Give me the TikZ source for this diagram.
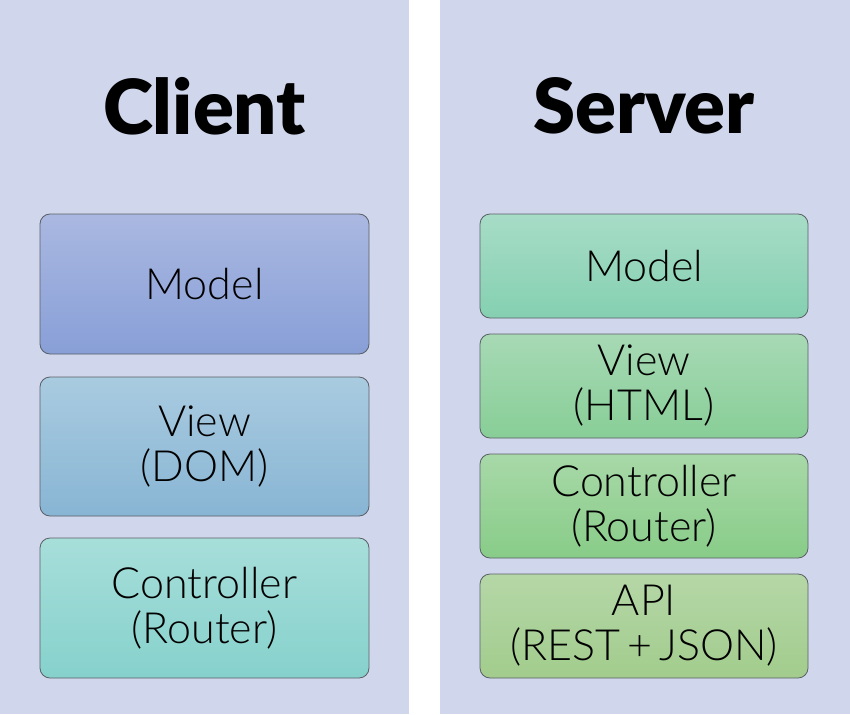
\documentclass[tikz,border=0pt]{standalone}
\usepackage{fontspec}
\setmainfont{Lato}
\newfontfamily\lightfont{Lato Light}
\newfontfamily\heavyfont{Lato Black}
\definecolor{panelbg}{HTML}{D0D6EB}
\definecolor{boxline}{HTML}{5A5F66}
\definecolor{cmodtop}{HTML}{AAB8E1}
\definecolor{cmodbot}{HTML}{889FD7}
\definecolor{cviewtop}{HTML}{A9CBE0}
\definecolor{cviewbot}{HTML}{88B5D4}
\definecolor{cctrltop}{HTML}{A7DEDA}
\definecolor{cctrlbot}{HTML}{86D1CC}
\definecolor{smodtop}{HTML}{A7DCC7}
\definecolor{smodbot}{HTML}{85D0B1}
\definecolor{sviewtop}{HTML}{A7D9B5}
\definecolor{sviewbot}{HTML}{88CE97}
\definecolor{sctrltop}{HTML}{A8D8A8}
\definecolor{sctrlbot}{HTML}{88CC88}
\definecolor{sapitop}{HTML}{B5D7A7}
\definecolor{sapibot}{HTML}{A2CC8D}
\tikzset{
    layer/.style={draw=boxline, line width=0.8pt, rounded corners=10pt,
        inner sep=0pt, align=center, text=black,
        font=\lightfont\fontsize{43}{45}\selectfont},
    title/.style={font=\heavyfont\fontsize{76}{80}\selectfont, text=black, inner sep=0pt},
}
\begin{document}
\begin{tikzpicture}[x=1pt,y=-1pt]
                \useasboundingbox (0,0) rectangle (850,714);
                \fill[white] (0,0) rectangle (850,714);
                \fill[panelbg] (0,0) rectangle (409,714);
                \fill[panelbg] (440,0) rectangle (850,714);

                \node[title] (client) at (204.5,106) {Client};
                \node[title] (server) at (644,106) {Server};

                % client side
                \node[layer, minimum width=329pt, minimum height=140pt,
                    top color=cmodtop, bottom color=cmodbot] (cmodel) at (204.5,284) {Model};
                \node[layer, minimum width=329pt, minimum height=139pt,
                    top color=cviewtop, bottom color=cviewbot] (cview) at (204.5,446.5) {View\\(DOM)};
                \node[layer, minimum width=329pt, minimum height=140pt,
                    top color=cctrltop, bottom color=cctrlbot] (cctrl) at (204.5,608) {Controller\\(Router)};

                % server side
                \node[layer, minimum width=328pt, minimum height=104pt,
                    top color=smodtop, bottom color=smodbot] (smodel) at (644,266) {Model};
                \node[layer, minimum width=328pt, minimum height=104pt,
                    top color=sviewtop, bottom color=sviewbot] (sview) at (644,386) {View\\(HTML)};
                \node[layer, minimum width=328pt, minimum height=104pt,
                    top color=sctrltop, bottom color=sctrlbot] (sctrl) at (644,506) {Controller\\(Router)};
                \node[layer, minimum width=328pt, minimum height=104pt,
                    top color=sapitop, bottom color=sapibot] (sapi) at (644,626) {API\\(REST\,+\,JSON)};
            \end{tikzpicture}
\end{document}
